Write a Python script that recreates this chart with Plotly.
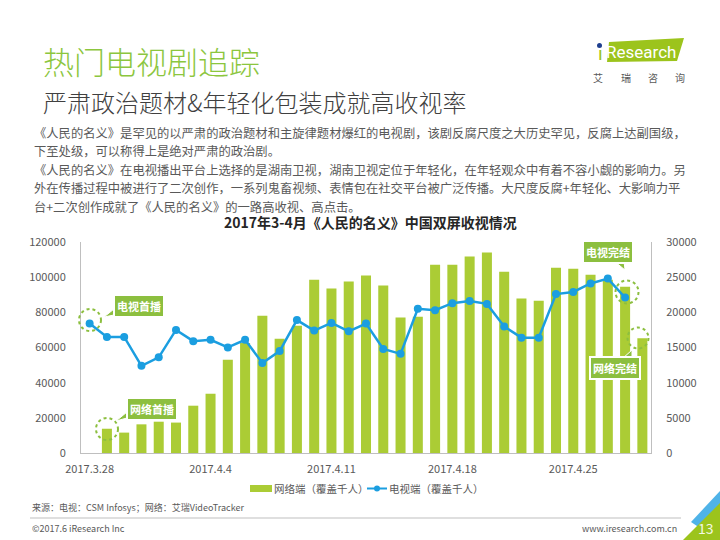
import plotly.graph_objects as go

# ---------------- data ----------------
dates = ["2017.3.28", "2017.3.29", "2017.3.30", "2017.3.31"] + [f"2017.4.{d}" for d in range(1, 30)]
tick_labels = ["2017.3.28", "2017.4.4", "2017.4.11", "2017.4.18", "2017.4.25"]

web_dates = dates[1:]      # 网络端 3.29 - 4.29
tv_dates = dates[:-1]      # 电视端 3.28 - 4.28

web_values = [13800, 11600, 16300, 17800, 17300, 26900, 33700, 53100, 62600, 78100,
              65000, 72400, 98600, 93500, 97500, 100900, 95200, 77000, 77500, 107100,
              107100, 111700, 114000, 103100, 87800, 86600, 105400, 104800, 101400, 98500,
              94600, 65200]
tv_values = [18400, 16500, 16500, 12400, 13600, 17500, 15900, 16100, 15000, 16100,
             12800, 14500, 18900, 17400, 18500, 17300, 18400, 14800, 14100, 20500,
             20300, 21300, 21600, 21200, 18000, 16400, 16400, 22600, 22900, 24100,
             24800, 22100]

web_name = "网络端（覆盖千人）"
tv_name = "电视端（覆盖千人）"

FONT = "Noto Sans CJK SC"
GREEN_BAR = "#abcc35"
BLUE = "#1b9ee0"
GREEN_TAG = "#8cbf3f"
GREY = "#595959"

# plot area in pixels: x 81..651, y 242..453
L, R, T, B = 81, 651, 242, 453
W, H = 720, 540


def X(px):
    return (px - L) / (R - L)


def Y(py):
    return (B - py) / (B - T)


fig = go.Figure()
fig.add_trace(go.Bar(x=web_dates, y=web_values, name=web_name,
                     marker=dict(color=GREEN_BAR, line=dict(width=0)), yaxis="y"))
fig.add_trace(go.Scatter(x=tv_dates, y=tv_values, name=tv_name, mode="lines+markers",
                         line=dict(color=BLUE, width=2.5),
                         marker=dict(color=BLUE, size=8), yaxis="y2"))

ann = []
shapes = []


def text(px, py, s, size, color, anchor="left", bold=False, family=FONT, weight=None):
    f = dict(family=family, size=size, color=color)
    if weight is not None:
        f["weight"] = weight
    ann.append(dict(x=X(px), y=Y(py), xref="paper", yref="paper", text=(f"<b>{s}</b>" if bold else s),
                    showarrow=False, xanchor=anchor, yanchor="middle", font=f))


# titles
text(41, 61, "热门电视剧追踪", 31, "#8cc63e", weight=300)
text(41, 101, "严肃政治题材&年轻化包装成就高收视率", 24, "#404040", weight=300)

para = [
    "《人民的名义》是罕见的以严肃的政治题材和主旋律题材爆红的电视剧，该剧反腐尺度之大历史罕见，反腐上达副国级，",
    "下至处级，可以称得上是绝对严肃的政治剧。",
    "《人民的名义》在电视播出平台上选择的是湖南卫视，湖南卫视定位于年轻化，在年轻观众中有着不容小觑的影响力。另",
    "外在传播过程中被进行了二次创作，一系列鬼畜视频、表情包在社交平台被广泛传播。大尺度反腐+年轻化、大影响力平",
    "台+二次创作成就了《人民的名义》的一路高收视、高点击。",
]
for i, line in enumerate(para):
    text(32, 133 + i * 18.4, line, 12.3, GREY)

text(370, 222, "2017年3-4月《人民的名义》中国双屏收视情况", 14, "#262626", anchor="center", bold=True)

# logo
shapes.append(dict(type="path", xref="paper", yref="paper",
                   path=f"M {X(609)},{Y(42)} L {X(684)},{Y(38)} L {X(677)},{Y(61)} L {X(607)},{Y(62)} Z",
                   fillcolor="#9cc41c", line=dict(width=0)))
text(641, 52, "Research", 17, "white", anchor="center", family="Roboto")
text(600, 54, "ı", 19, "#9cc41c", anchor="center", family="Roboto")
shapes.append(dict(type="circle", xref="paper", yref="paper",
                   x0=X(597), x1=X(602), y0=Y(48), y1=Y(43), fillcolor="#1f3f8f", line=dict(width=0)))
for cx, ch in zip([598, 626, 653, 680], ["艾", "瑞", "咨", "询"]):
    text(cx, 77, ch, 10, GREY, anchor="center")


# callouts
def callout(cx, cy, s, tail):
    shapes.append(dict(type="path", xref="paper", yref="paper",
                       path="M " + " L ".join(f"{X(a)},{Y(b)}" for a, b in tail) + " Z",
                       fillcolor=GREEN_TAG, line=dict(color="white", width=1)))
    ann.append(dict(x=X(cx), y=Y(cy), xref="paper", yref="paper", text=f"<b>{s}</b>",
                    showarrow=False, xanchor="center", yanchor="middle",
                    font=dict(family=FONT, size=11, color="white"),
                    bgcolor=GREEN_TAG, bordercolor="white", borderwidth=2, borderpad=2))


def dotted(cx, cy, r):
    shapes.append(dict(type="circle", xref="paper", yref="paper",
                       x0=X(cx - r), x1=X(cx + r), y0=Y(cy + r), y1=Y(cy - r),
                       line=dict(color="#8cbf3f", width=2, dash="dot")))


dotted(90, 320, 11)
dotted(107, 429, 11)
dotted(627, 292, 11.5)
dotted(638, 338, 10.5)
callout(139, 306, "电视首播", [(114, 309), (114, 315), (104, 317)])
callout(152, 409, "网络首播", [(127, 412), (127, 418), (116, 421)])
callout(608, 252, "电视完结", [(614, 261), (624, 261), (625, 270)])
callout(615, 368, "网络完结", [(622, 359), (632, 359), (632, 350)])

# custom legend
shapes.append(dict(type="rect", xref="paper", yref="paper",
                   x0=X(250), x1=X(272), y0=Y(492), y1=Y(485), fillcolor=GREEN_BAR, line=dict(width=0)))
text(272, 488.5, web_name, 10.5, GREY)
shapes.append(dict(type="line", xref="paper", yref="paper",
                   x0=X(367), x1=X(387), y0=Y(488.5), y1=Y(488.5), line=dict(color=BLUE, width=2)))
shapes.append(dict(type="circle", xref="paper", yref="paper",
                   x0=X(374), x1=X(380), y0=Y(491.5), y1=Y(485.5), fillcolor=BLUE, line=dict(width=0)))
text(387, 488.5, tv_name, 10.5, GREY)

# footer
text(30, 507, "来源：电视：CSM Infosys；网络：艾瑞VideoTracker", 9, GREY)
shapes.append(dict(type="line", xref="paper", yref="paper",
                   x0=X(30), x1=X(681), y0=Y(518), y1=Y(518), line=dict(color="#bfbfbf", width=1)))
text(30, 528, "©2017.6 iResearch Inc", 9, GREY)
text(679, 528, "www.iresearch.com.cn", 9, GREY, anchor="right")
shapes.append(dict(type="path", xref="paper", yref="paper",
                   path=f"M {X(691)},{Y(522)} L {X(720)},{Y(491)} L {X(720)},{Y(512)} L {X(703)},{Y(530)} Z",
                   fillcolor="#4fb3e8", line=dict(width=0)))
shapes.append(dict(type="path", xref="paper", yref="paper",
                   path=f"M {X(683)},{Y(540)} L {X(720)},{Y(503)} L {X(720)},{Y(540)} Z",
                   fillcolor="#9cc41c", line=dict(width=0)))
text(706, 528, "13", 14, "#f4f9e4", anchor="center")

axis_font = dict(family=FONT, size=11, color=GREY)
fig.update_layout(
    width=W, height=H,
    margin=dict(l=L, r=W - R, t=T, b=H - B, pad=0),
    paper_bgcolor="white", plot_bgcolor="white",
    showlegend=False,
    bargap=0.42,
    font=dict(family=FONT),
    xaxis=dict(type="category", categoryorder="array", categoryarray=dates,
               range=[-0.5, len(dates) - 0.5], tickvals=tick_labels, ticktext=tick_labels,
               showline=True, linecolor="#bfbfbf", linewidth=1, ticks="", showgrid=False,
               tickfont=axis_font, ticklabelstandoff=6, zeroline=False),
    yaxis=dict(range=[0, 120000], dtick=20000, showgrid=False, zeroline=False,
               showline=True, linecolor="#bfbfbf", linewidth=1, ticks="",
               tickfont=axis_font, ticklabelstandoff=12, tickformat="d"),
    yaxis2=dict(range=[0, 30000], dtick=5000, overlaying="y", side="right", showgrid=False,
                zeroline=False, showline=True, linecolor="#bfbfbf", linewidth=1, ticks="",
                tickfont=axis_font, ticklabelstandoff=12, tickformat="d"),
    annotations=ann,
    shapes=shapes,
)

fig.write_html("out.html", config={"displayModeBar": False},
               post_script="document.body.style.margin='0';document.body.style.overflow='hidden';")
